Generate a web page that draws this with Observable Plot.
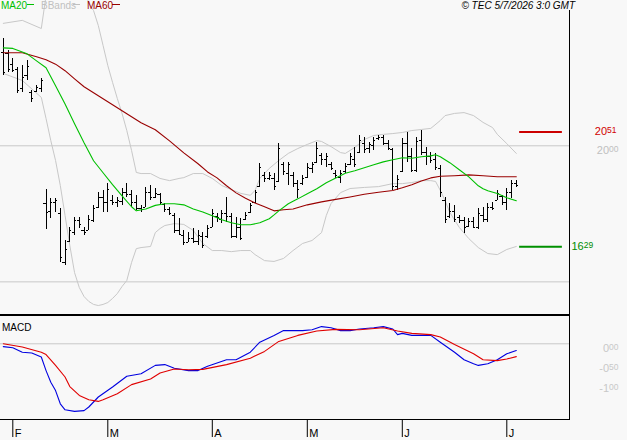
<!DOCTYPE html>
<html><head><meta charset="utf-8">
<script src="https://cdn.jsdelivr.net/npm/d3@7"></script>
<script src="https://cdn.jsdelivr.net/npm/@observablehq/plot@0.6"></script>
<style>
body{margin:0;background:#f8f8f8;}
#wrap{position:relative;width:627px;height:440px;overflow:hidden;background:#f8f8f8;font-family:"Liberation Sans",Arial,sans-serif;font-size:10px;line-height:10px;}
.abs{position:absolute;white-space:nowrap;}
svg{position:absolute;left:0;}
</style></head><body><div id="wrap"></div>
<script>
// ---- price bars (trading-day index 0..108, 29 Jan .. 3 Jul 2026) ----
const open = [23.42,23.40,23.00,22.80,22.10,22.60,21.95,22.00,22.10,17.87,
17.60,17.90,17.50,15.70,16.50,16.80,17.25,16.90,16.90,17.25,
17.75,18.10,17.90,18.00,17.90,17.95,18.30,18.20,17.90,17.70,
17.75,18.30,18.10,18.20,17.85,17.65,17.45,16.90,16.70,16.45,
16.60,16.50,16.65,16.65,17.00,17.40,17.30,17.50,17.40,16.65,
17.00,17.30,17.55,17.90,18.50,18.90,18.80,18.80,18.70,19.30,
19.00,18.90,18.60,18.60,18.85,19.15,19.40,19.65,19.50,19.30,
19.00,18.85,19.05,19.30,19.50,19.75,20.10,19.90,20.00,20.25,
20.30,20.10,19.85,18.50,19.05,20.10,19.60,19.10,20.20,19.75,
19.60,19.50,19.15,18.00,17.40,17.60,17.35,17.25,17.05,17.20,
17.00,17.45,17.30,17.75,18.00,18.15,17.90,18.30,18.60];
const high = [23.93,23.49,23.20,22.87,22.94,23.12,22.02,22.21,22.46,18.39,
18.05,18.05,17.68,16.51,16.99,17.35,17.35,16.99,17.43,17.79,
18.27,18.35,18.60,18.16,18.09,18.42,18.60,18.35,18.16,17.79,
18.46,18.53,18.42,18.24,17.87,17.72,17.50,17.32,16.88,16.80,
16.95,16.88,16.80,17.06,17.65,17.50,17.61,18.09,17.50,17.35,
17.32,17.54,17.87,18.35,19.34,19.01,19.01,18.97,20.07,19.38,
19.38,19.01,18.71,18.90,19.34,19.38,20.11,19.71,19.71,19.38,
19.08,19.08,19.34,19.71,19.93,20.37,20.29,20.11,20.29,20.37,
20.37,20.18,19.89,18.90,20.26,20.48,19.89,20.29,20.55,19.93,
19.74,19.71,19.26,18.09,17.87,17.79,17.43,17.35,17.32,17.35,
17.68,17.72,17.87,17.90,18.35,18.16,18.42,18.71,18.71];
const low = [22.57,22.68,22.68,21.91,21.95,22.39,21.58,21.95,21.95,16.91,
17.32,17.54,15.70,15.59,16.43,16.69,16.95,16.69,16.88,17.17,
17.68,17.54,17.54,17.79,17.72,17.79,18.09,17.72,17.61,17.54,
17.72,17.98,18.05,17.79,17.54,17.43,16.77,16.69,16.32,16.43,
16.40,16.32,16.21,16.58,16.99,17.17,17.13,17.17,16.58,16.58,
16.51,17.24,17.50,17.87,18.46,18.64,18.71,18.35,18.64,18.90,
18.53,18.46,18.05,18.53,18.79,18.97,19.34,19.26,19.19,19.08,
18.79,18.60,18.97,19.26,19.19,19.71,19.71,19.71,19.82,20.18,
20.00,19.82,18.35,18.35,19.01,19.38,19.01,19.01,19.63,19.26,
19.34,19.08,18.09,17.13,17.32,17.17,17.13,16.77,16.99,16.95,
16.91,17.17,17.17,17.61,17.98,17.79,17.61,18.05,18.46];
const close = [22.68,22.80,22.76,22.05,22.50,22.90,21.75,22.15,22.40,17.54,
17.90,17.98,15.90,16.20,16.90,17.25,17.10,16.80,17.30,17.70,
18.10,17.90,18.40,17.90,18.00,18.30,18.20,17.90,17.70,17.65,
18.30,18.10,18.25,17.90,17.65,17.50,16.90,16.75,16.45,16.60,
16.50,16.70,16.35,16.95,17.50,17.35,17.50,17.40,16.65,17.00,
16.60,17.45,17.80,18.30,19.20,18.80,18.90,18.50,19.90,19.05,
19.30,18.60,18.40,18.80,19.20,19.30,19.90,19.50,19.60,19.15,
18.90,19.00,19.25,19.60,19.30,20.20,19.85,20.05,20.20,20.30,
20.10,19.90,18.50,18.75,20.10,19.60,19.10,20.15,19.75,19.60,
19.45,19.20,18.30,17.30,17.60,17.30,17.25,17.00,17.20,17.00,
17.50,17.30,17.75,17.70,18.25,17.90,18.30,18.60,18.55];

// ---- indicators (index, value) ----
const ma20Idx = [0,2,5,7,9,11,13,15,17,19,21,23,25,27,28,30,32,34,36,38,40,42,44,46,48,50,52,54,56,57,58,60,62,64,66,68,70,72,74,76,78,80,82,84,86,88,90,91,92,94,96,98,100,101,102,104,106,108];
const ma20Val = [23.60,23.58,23.38,23.12,22.87,22.21,21.54,20.81,20.11,19.45,19.01,18.57,18.16,17.76,17.61,17.68,17.81,17.87,17.87,17.83,17.68,17.57,17.43,17.28,17.17,17.10,17.10,17.17,17.32,17.46,17.61,17.87,18.05,18.24,18.42,18.64,18.82,18.99,19.08,19.19,19.30,19.41,19.49,19.56,19.54,19.60,19.63,19.67,19.60,19.38,19.12,18.86,18.53,18.42,18.35,18.25,18.09,17.98];
const ma60Idx = [0,4,7,9,11,13,15,17,20,23,26,29,32,35,38,41,43,45,47,49,51,53,55,57,59,61,64,67,70,73,76,79,82,84,86,88,90,92,95,98,101,104,108];
const ma60Val = [23.42,23.42,23.27,23.16,23.00,22.76,22.46,22.17,21.84,21.51,21.18,20.85,20.59,20.18,19.74,19.34,19.04,18.82,18.53,18.27,18.07,17.90,17.76,17.61,17.65,17.68,17.83,17.94,18.03,18.12,18.22,18.29,18.36,18.46,18.57,18.71,18.82,18.88,18.90,18.93,18.90,18.86,18.86];
const bbUpIdx = [0,4,8,9,11,14,16,18,19,20,21,22,23,24,25,26,27,28,29,31,33,35,37,38,40,42,44,46,48,50,52,53,54,56,58,60,62,64,66,67,69,71,72,74,76,78,80,82,84,86,88,90,92,93,95,97,99,101,103,104,106,108];
const bbUpVal = [24.50,24.61,24.31,25.52,26.60,26.90,26.40,25.23,24.97,24.42,23.69,22.95,22.33,21.74,21.19,20.56,19.83,19.02,18.98,18.98,18.80,18.72,18.80,18.83,18.98,18.98,18.80,18.54,18.39,18.25,18.18,18.36,18.80,19.17,19.46,19.72,19.90,20.05,20.19,20.16,19.97,19.75,19.72,19.94,20.23,20.38,20.42,20.45,20.49,20.56,20.60,20.64,20.93,21.11,21.19,21.22,21.11,20.86,20.67,20.42,20.08,19.72];
const bbLoIdx = [0,4,8,9,10,11,12,13,14,15,16,17,18,19,20,21,22,23,24,25,26,27,28,29,31,32,33,34,36,38,40,42,44,46,48,50,52,53,55,57,59,61,63,65,67,68,69,71,73,76,79,82,84,86,88,90,91,92,93,94,96,98,100,102,104,106,108];
const bbLoVal = [22.66,22.40,21.78,21.00,20.19,19.46,18.54,17.44,16.34,15.34,14.79,14.46,14.28,14.17,14.13,14.17,14.24,14.39,14.57,14.83,15.05,15.71,16.22,16.26,16.30,16.81,16.96,17.07,17.14,17.11,16.89,16.41,16.15,16.15,16.11,16.15,16.15,16.00,15.78,15.75,15.86,16.15,16.41,16.52,16.81,17.44,17.88,18.28,18.43,18.47,18.50,18.61,18.61,18.65,18.72,18.72,18.69,18.36,17.99,17.55,17.00,16.59,16.26,16.04,16.00,16.19,16.30];

const macdIdx = [0,2,4,6,8,9,10,11,12,13,15,17,18,20,23,26,29,32,34,36,39,41,43,47,49,52,54,57,59,63,65,67,69,71,73,75,78,80,82,83,84,86,90,92,95,97,99,100,102,104,106,108];
const macdVal = [-0.07,-0.10,-0.21,-0.23,-0.33,-0.67,-0.96,-1.17,-1.50,-1.65,-1.69,-1.67,-1.58,-1.33,-1.08,-0.81,-0.75,-0.54,-0.52,-0.61,-0.67,-0.67,-0.56,-0.40,-0.40,-0.21,0.04,0.21,0.33,0.33,0.35,0.43,0.40,0.33,0.33,0.37,0.40,0.43,0.37,0.23,0.26,0.21,0.21,0.04,-0.21,-0.40,-0.50,-0.54,-0.50,-0.40,-0.25,-0.17];
const sigIdx = [0,4,8,9,11,13,14,16,18,20,21,24,27,31,33,36,39,42,47,52,55,58,62,66,70,75,80,83,86,90,92,95,99,101,104,106,108];
const sigVal = [0.00,-0.08,-0.21,-0.27,-0.54,-0.83,-1.07,-1.29,-1.40,-1.44,-1.40,-1.25,-1.02,-0.88,-0.73,-0.63,-0.65,-0.64,-0.52,-0.36,-0.19,0.06,0.21,0.32,0.36,0.35,0.40,0.32,0.26,0.23,0.17,-0.02,-0.25,-0.40,-0.42,-0.38,-0.32];

// ---- axes / levels ----
const monthTickIdx = [2,22,44,64,84,106];
const monthLabels = ["F","M","A","M","J","J"];
const priceGrid = [15, 20];
const priceTicks = [20];
const macdTicks = [0, -0.5, -1];
const resistance = 20.51;
const support = 16.29;

// ---- build ----
const wrap = document.getElementById("wrap");
const xDomain = [-0.5895, 119.2];
const font = {background:"transparent", fontFamily:"Liberation Sans, Arial, sans-serif", fontSize:"11px", overflow:"hidden"};
const bars = open.map((o,i)=>({i, o, h:high[i], l:low[i], c:close[i]}));
const pts = (ix, v) => ix.map((x,k)=>({x, y:v[k]}));

const main = Plot.plot({
  width:627, height:314, marginLeft:0, marginRight:58, marginTop:0, marginBottom:0,
  x:{domain:xDomain, axis:null},
  y:{domain:[13.80, 25.34], axis:null},
  style:font,
  marks:[
    Plot.ruleY(priceGrid, {stroke:"#c8c8c8"}),
    Plot.line(pts(bbUpIdx,bbUpVal), {x:"x", y:"y", stroke:"#c8c8c8", strokeWidth:1, clip:true}),
    Plot.line(pts(bbLoIdx,bbLoVal), {x:"x", y:"y", stroke:"#c8c8c8", strokeWidth:1, clip:true}),
    Plot.ruleX(bars, {x:"i", y1:"l", y2:"h", stroke:"#000", shapeRendering:"crispEdges"}),
    Plot.ruleY(bars, {y:"o", x1:d=>d.i-0.45, x2:"i", stroke:"#000", shapeRendering:"crispEdges"}),
    Plot.ruleY(bars, {y:"c", x1:"i", x2:d=>d.i+0.45, stroke:"#000", shapeRendering:"crispEdges"}),
    Plot.line(pts(ma60Idx,ma60Val), {x:"x", y:"y", stroke:"#990000", strokeWidth:1.1}),
    Plot.line(pts(ma20Idx,ma20Val), {x:"x", y:"y", stroke:"#00c000", strokeWidth:1.1}),
    Plot.ruleY([resistance], {x1:108.7, x2:117.7, stroke:"#cc0000", strokeWidth:2}),
    Plot.ruleY([support], {x1:108.7, x2:117.7, stroke:"#009000", strokeWidth:2}),
    Plot.text(priceTicks, {y:d=>d, text:d=>d.toFixed(2), frameAnchor:"right", dx:49, textAnchor:"end", lineAnchor:"top", fill:"#c0c0c0"}),
    Plot.text([resistance], {y:d=>d, text:d=>d.toFixed(2), frameAnchor:"right", dx:47, textAnchor:"end", lineAnchor:"middle", fill:"#d00000"}),
    Plot.text([support], {y:d=>d, text:d=>d.toFixed(2), frameAnchor:"right", dx:2, textAnchor:"start", lineAnchor:"middle", fill:"#008c00"})
  ]
});
main.style.top = "0px";
main.style.overflow = "visible";

const macd = Plot.plot({
  width:627, height:125, marginLeft:0, marginRight:58, marginTop:0, marginBottom:21,
  x:{domain:xDomain, axis:null},
  y:{domain:[-1.8925, 0.7075], axis:null},
  style:font,
  marks:[
    Plot.ruleY([0], {stroke:"#c8c8c8"}),
    Plot.line(pts(macdIdx,macdVal), {x:"x", y:"y", stroke:"#0000e0", strokeWidth:1.1}),
    Plot.line(pts(sigIdx,sigVal), {x:"x", y:"y", stroke:"#e00000", strokeWidth:1.1}),
    Plot.axisX({ticks:monthTickIdx, tickSize:18, tickFormat:()=>"", label:null, stroke:"#000"}),
    Plot.text(monthTickIdx, {x:d=>d, text:(d,k)=>monthLabels[k], frameAnchor:"bottom", dy:10, dx:2, textAnchor:"start", lineAnchor:"top", fill:"#000"}),
    Plot.text(macdTicks, {y:d=>d, text:d=>d.toFixed(2), frameAnchor:"right", dx:49, textAnchor:"end", lineAnchor:"top", fill:"#c8c8c8"})
  ]
});
macd.style.top = "315px";
macd.style.overflow = "visible";

function supify(svg){
  d3.select(svg).selectAll("text").each(function(){
    const t = this.textContent;
    if (!/^-?\d+\.\d\d$/.test(t)) return;
    const [a,b] = t.split(".");
    const s = d3.select(this);
    s.text(null);
    s.append("tspan").text(a);
    s.append("tspan").attr("font-size","8.5px").attr("dy","-2").text(b);
  });
}
supify(main); supify(macd);
wrap.appendChild(main);
wrap.appendChild(macd);

function div(style, text){
  const d = document.createElement("div");
  d.className = "abs";
  d.setAttribute("style", style);
  if (text) d.textContent = text;
  wrap.appendChild(d);
}
// panel borders
div("left:0;top:314px;width:570px;height:2px;background:#000");
div("left:569px;top:10px;width:1px;height:410px;background:#000");
div("left:0;top:419px;width:570px;height:1px;background:#000");
// legend
div("left:1px;top:1px;color:#00c000", "MA20");
div("left:27px;top:4px;width:7px;height:1px;background:#00c000");
div("left:41px;top:1px;color:#c0c0c0", "BBands");
div("left:73px;top:4px;width:7px;height:1px;background:#c0c0c0");
div("left:87px;top:1px;color:#990000", "MA60");
div("left:112px;top:4px;width:8px;height:1px;background:#990000");
div("right:52px;top:1px;color:#000;font-style:italic", "\u00A9 TEC 5/7/2026 3:0 GMT");
div("left:2px;top:323px;color:#000", "MACD");
</script></body></html>
